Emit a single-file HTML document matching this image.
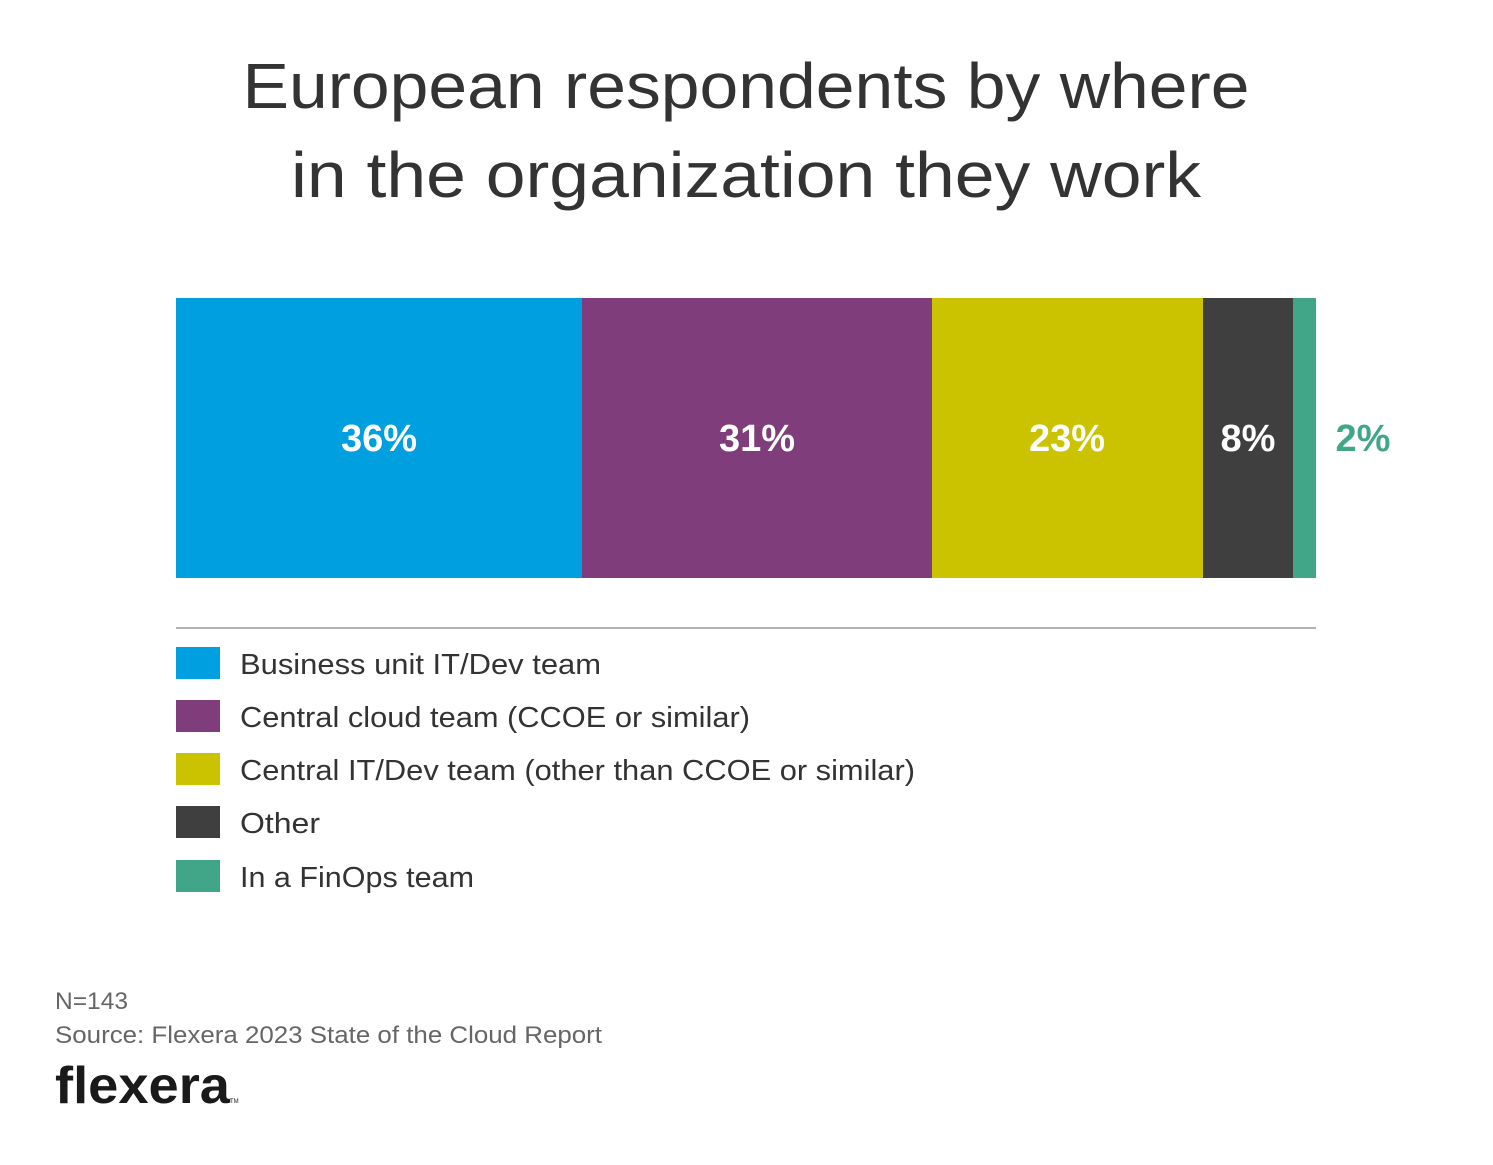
<!DOCTYPE html>
<html><head><meta charset="utf-8"><style>html,body{margin:0;padding:0;background:#fff}svg{display:block}</style></head>
<body>
<svg width="1493" height="1165" viewBox="0 0 1493 1165" xmlns="http://www.w3.org/2000/svg" font-family="Liberation Sans, sans-serif">
<rect width="1493" height="1165" fill="#fff"/>
<text x="746" y="108" text-anchor="middle" font-size="64" fill="#333" textLength="1007" lengthAdjust="spacingAndGlyphs">European respondents by where</text>
<text x="746" y="197" text-anchor="middle" font-size="64" fill="#333" textLength="910" lengthAdjust="spacingAndGlyphs">in the organization they work</text>
<rect x="176" y="298" width="406" height="280" fill="#009fdf"/>
<rect x="582" y="298" width="350" height="280" fill="#7f3d7b"/>
<rect x="932" y="298" width="271" height="280" fill="#cbc300"/>
<rect x="1203" y="298" width="90" height="280" fill="#3f3f3f"/>
<rect x="1293" y="298" width="23" height="280" fill="#41a687"/>
<g font-size="38" font-weight="bold" fill="#fff" text-anchor="middle">
<text x="379" y="451">36%</text>
<text x="757" y="451">31%</text>
<text x="1067" y="451">23%</text>
<text x="1248" y="451">8%</text>
<text x="1363" y="451" fill="#41a687">2%</text>
</g>
<line x1="176" y1="628" x2="1316" y2="628" stroke="#999" stroke-width="1.5"/>
<g font-size="29" fill="#333">
<rect x="176" y="647" width="44" height="32" fill="#009fdf"/><text x="240" y="674" textLength="361" lengthAdjust="spacingAndGlyphs">Business unit IT/Dev team</text>
<rect x="176" y="700" width="44" height="32" fill="#7f3d7b"/><text x="240" y="727" textLength="510" lengthAdjust="spacingAndGlyphs">Central cloud team (CCOE or similar)</text>
<rect x="176" y="753" width="44" height="32" fill="#cbc300"/><text x="240" y="780" textLength="675" lengthAdjust="spacingAndGlyphs">Central IT/Dev team (other than CCOE or similar)</text>
<rect x="176" y="806" width="44" height="32" fill="#3f3f3f"/><text x="240" y="833" textLength="80" lengthAdjust="spacingAndGlyphs">Other</text>
<rect x="176" y="860" width="44" height="32" fill="#41a687"/><text x="240" y="887" textLength="234" lengthAdjust="spacingAndGlyphs">In a FinOps team</text>
</g>
<g font-size="24" fill="#666">
<text x="55" y="1009" textLength="73" lengthAdjust="spacingAndGlyphs">N=143</text>
<text x="55" y="1043" textLength="547" lengthAdjust="spacingAndGlyphs">Source: Flexera 2023 State of the Cloud Report</text>
</g>
<text x="55" y="1103" font-size="52" font-weight="bold" fill="#1a1a1a" textLength="175" lengthAdjust="spacingAndGlyphs">flexera</text>
<text x="230" y="1103" font-size="6" fill="#1a1a1a">TM</text>
</svg>
</body></html>
